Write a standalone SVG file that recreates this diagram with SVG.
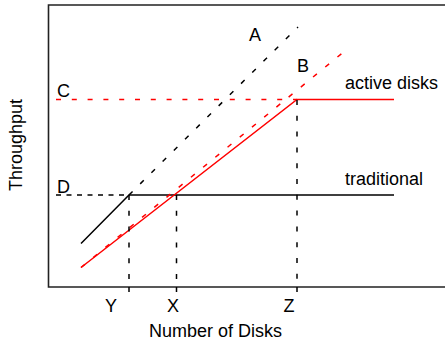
<svg xmlns="http://www.w3.org/2000/svg" width="445" height="346" viewBox="0 0 445 346">
  <style>
    .lbl { font-family: "Liberation Sans", Arial, sans-serif; font-size: 18px; fill: #000; }
    .frame { fill: none; stroke: #222; stroke-width: 1.6; }
    .blk { fill: none; stroke: #000; stroke-width: 1.5; }
    .red { fill: none; stroke: #f00; stroke-width: 1.5; }
    .dash { stroke-dasharray: 5 10.8; }
    .dash-fine { stroke-dasharray: 5 5.5; }
  </style>
  <rect width="445" height="346" fill="#fff"/>

  <!-- plot frame: top edge, y axis, x axis -->
  <g id="frame">
    <path class="frame" d="M448,5 H48.5 V287 H448"/>
  </g>

  <!-- curves and guide lines -->
  <g id="connectors">
    <!-- traditional: linear rise, then flat -->
    <path class="blk" d="M81,243.5 L129,195 H394"/>
    <!-- extrapolation of the traditional slope up to A -->
    <path class="blk dash" d="M129,195 L298,27"/>
    <!-- level D -->
    <path class="blk dash-fine" d="M56,195 H129"/>
    <!-- active disks: linear rise, then flat -->
    <path class="red" d="M81,267.5 L297,99.5 H394"/>
    <!-- extrapolation of the active disks slope up to B -->
    <path class="red dash" d="M81,267.5 L346,50"/>
    <!-- level C -->
    <path class="red dash" d="M56,99.5 H297"/>
    <!-- drop lines to the x axis -->
    <path class="blk dash" d="M129,195 V287"/>
    <path class="blk dash" d="M176.5,195 V287"/>
    <path class="blk dash" d="M297,100 V287"/>
    <!-- ticks below the axis -->
    <path class="blk" d="M129,287 V292 M176.5,287 V292 M297,287 V292"/>
  </g>

  <!-- point labels -->
  <g id="label-A"><text class="lbl" x="255" y="41" text-anchor="middle">A</text></g>
  <g id="label-B"><text class="lbl" x="297" y="72">B</text></g>
  <g id="label-C"><text class="lbl" x="57" y="96.5">C</text></g>
  <g id="label-D"><text class="lbl" x="57" y="192.5">D</text></g>
  <g id="label-active"><text class="lbl" x="345" y="89">active disks</text></g>
  <g id="label-traditional"><text class="lbl" x="345" y="185">traditional</text></g>

  <!-- axis ticks labels -->
  <g id="tick-Y"><text class="lbl" x="111" y="312" text-anchor="middle">Y</text></g>
  <g id="tick-X"><text class="lbl" x="173" y="312" text-anchor="middle">X</text></g>
  <g id="tick-Z"><text class="lbl" x="289" y="312" text-anchor="middle">Z</text></g>

  <!-- axis titles -->
  <g id="x-title"><text class="lbl" x="215.5" y="337" text-anchor="middle">Number of Disks</text></g>
  <g id="y-title"><text class="lbl" transform="translate(22,145) rotate(-90)" text-anchor="middle">Throughput</text></g>
</svg>
